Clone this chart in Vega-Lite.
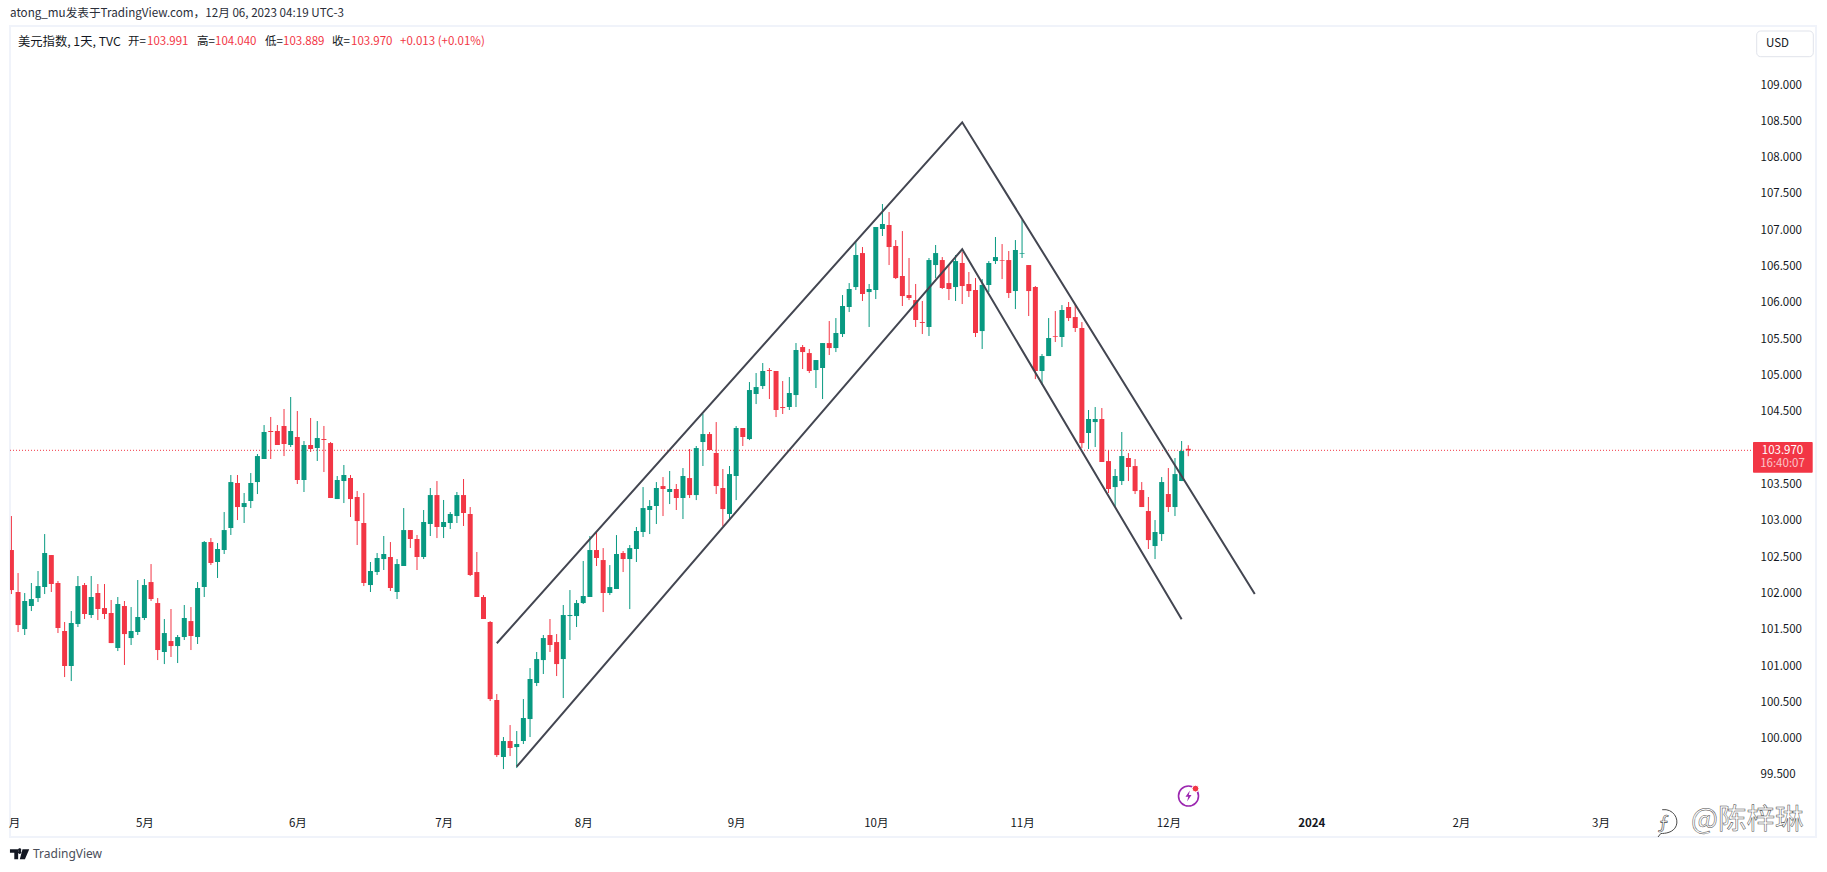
{
  "$schema": "https://vega.github.io/schema/vega-lite/v6.json",
  "width": 1806,
  "height": 811,
  "padding": {"left": 10, "top": 26, "right": 11, "bottom": 35},
  "autosize": {"type": "none"},
  "background": "#ffffff",
  "title": {
    "text": "atong_mu发表于TradingView.com，12月 06, 2023 04:19 UTC-3",
    "anchor": "start",
    "frame": "group",
    "offset": 6,
    "font": "Noto Sans CJK SC",
    "fontSize": 11.65,
    "fontWeight": "normal",
    "color": "#2a2e39"
  },
  "config": {
    "view": {"stroke": "#f0f3fa", "strokeWidth": 2},
    "text": {"font": "Noto Sans CJK SC", "fontSize": 11.5, "align": "left", "baseline": "middle"}
  },
  "datasets": {
    "candles": [
      {"i":0,"o":102.597,"h":103.065,"l":101.991,"c":102.046},
      {"i":1,"o":102.019,"h":102.280,"l":101.468,"c":101.564},
      {"i":2,"o":101.509,"h":102.005,"l":101.427,"c":101.895},
      {"i":3,"o":101.826,"h":102.143,"l":101.757,"c":101.922},
      {"i":4,"o":101.936,"h":102.308,"l":101.881,"c":102.101},
      {"i":5,"o":102.088,"h":102.817,"l":101.991,"c":102.556},
      {"i":6,"o":102.528,"h":102.528,"l":102.019,"c":102.129},
      {"i":7,"o":102.143,"h":102.170,"l":101.454,"c":101.523},
      {"i":8,"o":101.482,"h":101.606,"l":100.848,"c":101.000},
      {"i":9,"o":101.000,"h":101.757,"l":100.793,"c":101.592},
      {"i":10,"o":101.578,"h":102.239,"l":101.537,"c":102.101},
      {"i":11,"o":102.115,"h":102.143,"l":101.647,"c":101.716},
      {"i":12,"o":101.702,"h":102.239,"l":101.661,"c":101.950},
      {"i":13,"o":102.005,"h":102.129,"l":101.633,"c":101.785},
      {"i":14,"o":101.798,"h":102.129,"l":101.647,"c":101.716},
      {"i":15,"o":101.730,"h":101.909,"l":101.316,"c":101.316},
      {"i":16,"o":101.248,"h":101.950,"l":101.206,"c":101.854},
      {"i":17,"o":101.826,"h":101.895,"l":101.014,"c":101.440},
      {"i":18,"o":101.385,"h":101.812,"l":101.289,"c":101.482},
      {"i":19,"o":101.468,"h":102.184,"l":101.427,"c":101.675},
      {"i":20,"o":101.661,"h":102.198,"l":101.633,"c":102.115},
      {"i":21,"o":102.156,"h":102.404,"l":101.895,"c":101.922},
      {"i":22,"o":101.867,"h":101.936,"l":101.082,"c":101.220},
      {"i":23,"o":101.193,"h":101.647,"l":101.027,"c":101.454},
      {"i":24,"o":101.344,"h":101.785,"l":101.124,"c":101.275},
      {"i":25,"o":101.275,"h":101.427,"l":101.041,"c":101.399},
      {"i":26,"o":101.399,"h":101.840,"l":101.358,"c":101.661},
      {"i":27,"o":101.619,"h":101.812,"l":101.220,"c":101.413},
      {"i":28,"o":101.399,"h":102.156,"l":101.303,"c":102.074},
      {"i":29,"o":102.088,"h":102.721,"l":101.950,"c":102.707},
      {"i":30,"o":102.707,"h":102.762,"l":102.391,"c":102.418},
      {"i":31,"o":102.432,"h":102.693,"l":102.212,"c":102.611},
      {"i":32,"o":102.597,"h":103.120,"l":102.542,"c":102.872},
      {"i":33,"o":102.900,"h":103.630,"l":102.804,"c":103.533},
      {"i":34,"o":103.520,"h":103.630,"l":103.010,"c":103.189},
      {"i":35,"o":103.189,"h":103.382,"l":102.969,"c":103.244},
      {"i":36,"o":103.272,"h":103.657,"l":103.175,"c":103.520},
      {"i":37,"o":103.533,"h":103.919,"l":103.368,"c":103.891},
      {"i":38,"o":103.850,"h":104.318,"l":103.850,"c":104.222},
      {"i":39,"o":104.236,"h":104.429,"l":103.850,"c":104.222},
      {"i":40,"o":104.236,"h":104.318,"l":104.043,"c":104.043},
      {"i":41,"o":104.305,"h":104.539,"l":103.891,"c":104.057},
      {"i":42,"o":104.043,"h":104.704,"l":104.015,"c":104.236},
      {"i":43,"o":104.153,"h":104.511,"l":103.506,"c":103.561},
      {"i":44,"o":103.561,"h":104.098,"l":103.396,"c":104.043},
      {"i":45,"o":104.043,"h":104.415,"l":103.947,"c":103.988},
      {"i":46,"o":104.002,"h":104.373,"l":103.823,"c":104.139},
      {"i":47,"o":104.126,"h":104.305,"l":103.671,"c":104.112},
      {"i":48,"o":104.070,"h":104.084,"l":103.313,"c":103.313},
      {"i":49,"o":103.299,"h":103.616,"l":103.299,"c":103.561},
      {"i":50,"o":103.547,"h":103.768,"l":103.244,"c":103.630},
      {"i":51,"o":103.589,"h":103.630,"l":103.052,"c":103.299},
      {"i":52,"o":103.327,"h":103.410,"l":102.666,"c":102.996},
      {"i":53,"o":102.969,"h":103.382,"l":102.101,"c":102.143},
      {"i":54,"o":102.115,"h":102.432,"l":102.019,"c":102.308},
      {"i":55,"o":102.294,"h":102.556,"l":102.253,"c":102.487},
      {"i":56,"o":102.473,"h":102.790,"l":102.322,"c":102.542},
      {"i":57,"o":102.501,"h":102.707,"l":102.033,"c":102.074},
      {"i":58,"o":102.019,"h":102.473,"l":101.922,"c":102.404},
      {"i":59,"o":102.377,"h":103.175,"l":102.377,"c":102.872},
      {"i":60,"o":102.872,"h":102.872,"l":102.625,"c":102.749},
      {"i":61,"o":102.749,"h":102.804,"l":102.322,"c":102.501},
      {"i":62,"o":102.501,"h":103.148,"l":102.473,"c":102.983},
      {"i":63,"o":102.955,"h":103.451,"l":102.790,"c":103.354},
      {"i":64,"o":103.354,"h":103.547,"l":102.762,"c":102.914},
      {"i":65,"o":102.914,"h":103.286,"l":102.762,"c":102.983},
      {"i":66,"o":102.969,"h":103.120,"l":102.886,"c":103.093},
      {"i":67,"o":103.065,"h":103.396,"l":102.969,"c":103.354},
      {"i":68,"o":103.354,"h":103.575,"l":102.928,"c":103.107},
      {"i":69,"o":103.093,"h":103.189,"l":102.239,"c":102.253},
      {"i":70,"o":102.294,"h":102.570,"l":101.950,"c":101.950},
      {"i":71,"o":101.950,"h":101.977,"l":101.647,"c":101.647},
      {"i":72,"o":101.606,"h":101.619,"l":100.518,"c":100.545},
      {"i":73,"o":100.532,"h":100.614,"l":99.747,"c":99.774},
      {"i":74,"o":99.747,"h":100.022,"l":99.581,"c":99.967},
      {"i":75,"o":99.967,"h":100.187,"l":99.760,"c":99.871},
      {"i":76,"o":99.884,"h":100.105,"l":99.595,"c":99.926},
      {"i":77,"o":99.967,"h":100.545,"l":99.926,"c":100.284},
      {"i":78,"o":100.270,"h":100.972,"l":100.022,"c":100.821},
      {"i":79,"o":100.766,"h":101.193,"l":100.724,"c":101.096},
      {"i":80,"o":101.082,"h":101.427,"l":100.890,"c":101.385},
      {"i":81,"o":101.427,"h":101.647,"l":101.193,"c":101.289},
      {"i":82,"o":101.330,"h":101.440,"l":100.862,"c":101.027},
      {"i":83,"o":101.096,"h":101.840,"l":100.559,"c":101.702},
      {"i":84,"o":101.688,"h":102.046,"l":101.358,"c":101.702},
      {"i":85,"o":101.688,"h":101.909,"l":101.537,"c":101.867},
      {"i":86,"o":101.867,"h":102.446,"l":101.854,"c":101.964},
      {"i":87,"o":101.950,"h":102.790,"l":101.950,"c":102.597},
      {"i":88,"o":102.597,"h":102.845,"l":102.377,"c":102.487},
      {"i":89,"o":102.459,"h":102.624,"l":101.743,"c":102.005},
      {"i":90,"o":102.005,"h":102.390,"l":101.977,"c":102.087},
      {"i":91,"o":102.060,"h":102.803,"l":102.060,"c":102.542},
      {"i":92,"o":102.556,"h":102.583,"l":102.294,"c":102.473},
      {"i":93,"o":102.473,"h":102.666,"l":101.784,"c":102.624},
      {"i":94,"o":102.611,"h":102.914,"l":102.432,"c":102.859},
      {"i":95,"o":102.845,"h":103.464,"l":102.776,"c":103.175},
      {"i":96,"o":103.148,"h":103.285,"l":102.817,"c":103.203},
      {"i":97,"o":103.203,"h":103.533,"l":102.955,"c":103.451},
      {"i":98,"o":103.478,"h":103.602,"l":103.065,"c":103.437},
      {"i":99,"o":103.396,"h":103.685,"l":103.230,"c":103.437},
      {"i":100,"o":103.437,"h":103.506,"l":103.148,"c":103.313},
      {"i":101,"o":103.313,"h":103.726,"l":103.024,"c":103.616},
      {"i":102,"o":103.588,"h":103.988,"l":103.313,"c":103.354},
      {"i":103,"o":103.354,"h":104.029,"l":103.285,"c":104.001},
      {"i":104,"o":104.084,"h":104.474,"l":103.754,"c":104.194},
      {"i":105,"o":104.194,"h":104.222,"l":103.974,"c":103.974},
      {"i":106,"o":103.933,"h":104.359,"l":103.368,"c":103.478},
      {"i":107,"o":103.451,"h":103.712,"l":102.927,"c":103.161},
      {"i":108,"o":103.093,"h":103.754,"l":103.024,"c":103.643},
      {"i":109,"o":103.616,"h":104.304,"l":103.285,"c":104.277},
      {"i":110,"o":104.277,"h":104.277,"l":104.029,"c":104.153},
      {"i":111,"o":104.125,"h":104.910,"l":104.111,"c":104.800},
      {"i":112,"o":104.745,"h":105.034,"l":104.607,"c":104.841},
      {"i":113,"o":104.855,"h":105.172,"l":104.814,"c":105.062},
      {"i":114,"o":105.075,"h":105.103,"l":104.676,"c":105.062},
      {"i":115,"o":105.062,"h":105.062,"l":104.428,"c":104.525},
      {"i":116,"o":104.566,"h":104.924,"l":104.470,"c":104.552},
      {"i":117,"o":104.566,"h":104.979,"l":104.525,"c":104.759},
      {"i":118,"o":104.731,"h":105.447,"l":104.566,"c":105.351},
      {"i":119,"o":105.392,"h":105.420,"l":105.089,"c":105.323},
      {"i":120,"o":105.309,"h":105.365,"l":105.034,"c":105.062},
      {"i":121,"o":105.075,"h":105.213,"l":104.828,"c":105.213},
      {"i":122,"o":105.103,"h":105.447,"l":104.676,"c":105.447},
      {"i":123,"o":105.447,"h":105.750,"l":105.282,"c":105.378},
      {"i":124,"o":105.378,"h":105.791,"l":105.323,"c":105.585},
      {"i":125,"o":105.571,"h":106.108,"l":105.530,"c":105.957},
      {"i":126,"o":105.943,"h":106.273,"l":105.874,"c":106.191},
      {"i":127,"o":106.218,"h":106.852,"l":106.177,"c":106.659},
      {"i":128,"o":106.686,"h":106.769,"l":106.026,"c":106.122},
      {"i":129,"o":106.149,"h":106.260,"l":105.668,"c":106.191},
      {"i":130,"o":106.177,"h":107.045,"l":106.053,"c":107.045},
      {"i":131,"o":107.017,"h":107.361,"l":106.921,"c":107.086},
      {"i":132,"o":107.072,"h":107.251,"l":106.521,"c":106.769},
      {"i":133,"o":106.783,"h":106.865,"l":106.328,"c":106.342},
      {"i":134,"o":106.370,"h":106.989,"l":105.957,"c":106.094},
      {"i":135,"o":106.108,"h":106.618,"l":106.039,"c":106.067},
      {"i":136,"o":106.039,"h":106.260,"l":105.668,"c":105.764},
      {"i":137,"o":105.736,"h":106.026,"l":105.571,"c":105.723},
      {"i":138,"o":105.668,"h":106.618,"l":105.544,"c":106.590},
      {"i":139,"o":106.521,"h":106.797,"l":106.338,"c":106.686},
      {"i":140,"o":106.590,"h":106.631,"l":106.191,"c":106.205},
      {"i":141,"o":106.273,"h":106.535,"l":106.039,"c":106.191},
      {"i":142,"o":106.218,"h":106.659,"l":106.026,"c":106.576},
      {"i":143,"o":106.549,"h":106.700,"l":105.984,"c":106.232},
      {"i":144,"o":106.260,"h":106.425,"l":106.081,"c":106.163},
      {"i":145,"o":106.177,"h":106.342,"l":105.530,"c":105.585},
      {"i":146,"o":105.612,"h":106.328,"l":105.365,"c":106.246},
      {"i":147,"o":106.246,"h":106.576,"l":106.149,"c":106.549},
      {"i":148,"o":106.576,"h":106.907,"l":106.535,"c":106.631},
      {"i":149,"o":106.590,"h":106.810,"l":106.328,"c":106.581},
      {"i":150,"o":106.590,"h":106.714,"l":106.067,"c":106.136},
      {"i":151,"o":106.163,"h":106.865,"l":105.915,"c":106.728},
      {"i":152,"o":106.677,"h":107.141,"l":106.618,"c":106.686},
      {"i":153,"o":106.521,"h":106.521,"l":105.819,"c":106.163},
      {"i":154,"o":106.218,"h":106.232,"l":104.951,"c":105.062},
      {"i":155,"o":105.062,"h":105.296,"l":104.869,"c":105.268},
      {"i":156,"o":105.268,"h":105.791,"l":105.268,"c":105.516},
      {"i":157,"o":105.544,"h":105.888,"l":105.461,"c":105.534},
      {"i":158,"o":105.530,"h":105.970,"l":105.392,"c":105.902},
      {"i":159,"o":105.943,"h":106.012,"l":105.750,"c":105.791},
      {"i":160,"o":105.805,"h":105.984,"l":105.599,"c":105.654},
      {"i":161,"o":105.654,"h":105.736,"l":104.001,"c":104.070},
      {"i":162,"o":104.208,"h":104.525,"l":103.988,"c":104.401},
      {"i":163,"o":104.359,"h":104.566,"l":104.015,"c":104.401},
      {"i":164,"o":104.401,"h":104.552,"l":103.809,"c":103.809},
      {"i":165,"o":103.822,"h":103.974,"l":103.382,"c":103.437},
      {"i":166,"o":103.464,"h":103.712,"l":103.189,"c":103.616},
      {"i":167,"o":103.547,"h":104.222,"l":103.492,"c":103.891},
      {"i":168,"o":103.864,"h":103.932,"l":103.547,"c":103.740},
      {"i":169,"o":103.753,"h":103.850,"l":103.368,"c":103.409},
      {"i":170,"o":103.423,"h":103.533,"l":103.189,"c":103.189},
      {"i":171,"o":103.134,"h":103.327,"l":102.611,"c":102.734},
      {"i":172,"o":102.652,"h":103.010,"l":102.473,"c":102.845},
      {"i":173,"o":102.817,"h":103.602,"l":102.721,"c":103.533},
      {"i":174,"o":103.368,"h":103.726,"l":103.120,"c":103.189},
      {"i":175,"o":103.189,"h":103.864,"l":103.065,"c":103.643},
      {"i":176,"o":103.547,"h":104.098,"l":103.547,"c":103.960},
      {"i":177,"o":103.991,"h":104.040,"l":103.889,"c":103.970}
    ],
    "channels": [
      {"line":"upper","i":73,"p":101.313},
      {"line":"upper","i":143,"p":108.486},
      {"line":"upper","i":187,"p":101.992},
      {"line":"lower","i":76,"p":99.614},
      {"line":"lower","i":143,"p":106.738},
      {"line":"lower","i":176,"p":101.643}
    ]
  },
  "layer": [
    {
      "data": {"values": [{"price": 103.97}]},
      "mark": {"type": "rule", "color": "#f23645", "strokeWidth": 1, "strokeDash": [1, 2]},
      "encoding": {
        "y": {
          "field": "price",
          "type": "quantitative",
          "scale": {"domain": [98.6457, 109.8124], "nice": false, "zero": false},
          "axis": {
            "orient": "right",
            "offset": -60,
            "title": null,
            "domain": false,
            "ticks": false,
            "grid": false,
            "labelPadding": 4,
            "labelAlign": "left",
            "labelFont": "Noto Sans CJK SC",
            "labelFontSize": 11.5,
            "labelColor": "#131722",
            "labelOverlap": false,
            "format": ".3f",
            "values": [99.5, 100, 100.5, 101, 101.5, 102, 102.5, 103, 103.5, 104.5, 105, 105.5, 106, 106.5, 107, 107.5, 108, 108.5, 109]
          }
        },
        "x": {"value": 0},
        "x2": {"value": 1741}
      }
    },
    {
      "data": {"name": "candles"},
      "mark": {"type": "rule", "strokeWidth": 1, "clip": true},
      "encoding": {
        "x": {
          "field": "i",
          "type": "quantitative",
          "scale": {"domain": [-0.2136, 271.41], "nice": false, "zero": false, "padding": 0},
          "axis": {
            "orient": "bottom",
            "offset": -22,
            "title": null,
            "domain": false,
            "ticks": false,
            "grid": false,
            "labelPadding": 2,
            "labelFont": "Noto Sans CJK SC",
            "labelFontSize": 11.5,
            "labelColor": "#131722",
            "labelOverlap": false,
            "labelBound": false,
            "labelFlush": false,
            "labelFontWeight": {"condition": {"test": "datum.value == 195.5", "value": "bold"}, "value": "normal"},
            "values": [0.4, 20, 43, 65, 86, 109, 130, 152, 174, 195.5, 218, 239],
            "labelExpr": "{'0.4':'月','20':'5月','43':'6月','65':'7月','86':'8月','109':'9月','130':'10月','152':'11月','174':'12月','195.5':'2024','218':'2月','239':'3月'}[datum.value]"
          }
        },
        "y": {"field": "l", "type": "quantitative", "title": null, "axis": {"orient": "right", "title": null}},
        "y2": {"field": "h"},
        "color": {"condition": {"test": "datum.c >= datum.o", "value": "#089981"}, "value": "#f23645"}
      }
    },
    {
      "data": {"name": "candles"},
      "mark": {"type": "bar", "size": 5, "clip": true},
      "encoding": {
        "x": {"field": "i", "type": "quantitative", "title": null, "axis": {"orient": "bottom", "title": null}},
        "y": {"field": "o", "type": "quantitative", "title": null, "axis": {"orient": "right", "title": null}},
        "y2": {"field": "c"},
        "color": {"condition": {"test": "datum.c >= datum.o", "value": "#089981"}, "value": "#f23645"}
      }
    },
    {
      "data": {"name": "channels"},
      "mark": {"type": "line", "color": "#434651", "strokeWidth": 2},
      "encoding": {
        "x": {"field": "i", "type": "quantitative", "title": null, "axis": {"orient": "bottom", "title": null}},
        "y": {"field": "p", "type": "quantitative", "title": null, "axis": {"orient": "right", "title": null}},
        "detail": {"field": "line"}
      }
    },
    {
      "data": {"values": [{"t": "美元指数, 1天, TVC"}]},
      "mark": {"type": "text", "x": 8, "y": 16, "color": "#131722", "fontSize": 12.3},
      "encoding": {"text": {"field": "t"}}
    },
    {
      "data": {"values": [{"t": "开="}]},
      "mark": {"type": "text", "x": 118, "y": 16, "color": "#131722"},
      "encoding": {"text": {"field": "t"}}
    },
    {
      "data": {"values": [{"t": "103.991"}]},
      "mark": {"type": "text", "x": 137, "y": 16, "color": "#f23645"},
      "encoding": {"text": {"field": "t"}}
    },
    {
      "data": {"values": [{"t": "高="}]},
      "mark": {"type": "text", "x": 187, "y": 16, "color": "#131722"},
      "encoding": {"text": {"field": "t"}}
    },
    {
      "data": {"values": [{"t": "104.040"}]},
      "mark": {"type": "text", "x": 205, "y": 16, "color": "#f23645"},
      "encoding": {"text": {"field": "t"}}
    },
    {
      "data": {"values": [{"t": "低="}]},
      "mark": {"type": "text", "x": 255, "y": 16, "color": "#131722"},
      "encoding": {"text": {"field": "t"}}
    },
    {
      "data": {"values": [{"t": "103.889"}]},
      "mark": {"type": "text", "x": 273, "y": 16, "color": "#f23645"},
      "encoding": {"text": {"field": "t"}}
    },
    {
      "data": {"values": [{"t": "收="}]},
      "mark": {"type": "text", "x": 322, "y": 16, "color": "#131722"},
      "encoding": {"text": {"field": "t"}}
    },
    {
      "data": {"values": [{"t": "103.970"}]},
      "mark": {"type": "text", "x": 341, "y": 16, "color": "#f23645"},
      "encoding": {"text": {"field": "t"}}
    },
    {
      "data": {"values": [{"t": "+0.013 (+0.01%)"}]},
      "mark": {"type": "text", "x": 390, "y": 16, "color": "#f23645"},
      "encoding": {"text": {"field": "t"}}
    },
    {
      "data": {"values": [{}]},
      "mark": {"type": "rect", "x": 1746.7, "x2": 1803.3, "y": 5, "y2": 30.7, "fill": "#ffffff", "stroke": "#e0e3eb", "strokeWidth": 1, "cornerRadius": 4},
      "encoding": {}
    },
    {
      "data": {"values": [{"t": "USD"}]},
      "mark": {"type": "text", "x": 1756, "y": 18, "color": "#131722"},
      "encoding": {"text": {"field": "t"}}
    },
    {
      "data": {"values": [{}]},
      "mark": {"type": "rect", "x": 1743, "x2": 1802.7, "y": 416, "y2": 446.7, "fill": "#f23645", "cornerRadius": 1},
      "encoding": {}
    },
    {
      "data": {"values": [{"t": "103.970"}]},
      "mark": {"type": "text", "x": 1772.5, "y": 424.7, "align": "center", "color": "#ffffff"},
      "encoding": {"text": {"field": "t"}}
    },
    {
      "data": {"values": [{"t": "16:40:07"}]},
      "mark": {"type": "text", "x": 1772.5, "y": 438.3, "align": "center", "color": "#ffffff", "opacity": 0.7},
      "encoding": {"text": {"field": "t"}}
    },
    {
      "data": {"values": [{}]},
      "mark": {"type": "point", "x": 1178.5, "y": 770, "shape": "circle", "size": 400, "filled": false, "stroke": "#9c27b0", "strokeWidth": 1.6, "opacity": 1},
      "encoding": {}
    },
    {
      "data": {"values": [{}]},
      "mark": {"type": "point", "x": 1185.5, "y": 762.6, "shape": "circle", "size": 46, "filled": true, "fill": "#f23645", "stroke": "#ffffff", "strokeWidth": 1, "opacity": 1},
      "encoding": {}
    },
    {
      "data": {"values": [{}]},
      "mark": {"type": "point", "x": 1178.5, "y": 770, "shape": "M 0.25,-1 L -0.55,0.15 L -0.05,0.15 L -0.25,1 L 0.55,-0.2 L 0.05,-0.2 Z", "size": 120, "filled": true, "fill": "#9c27b0", "strokeWidth": 0, "opacity": 1},
      "encoding": {}
    },
    {
      "data": {"values": [{"t": "@陈梓琳"}]},
      "mark": {"type": "text", "x": 1681, "y": 794, "fontSize": 28.5, "fill": "#ffffff", "stroke": "#4a4a4a", "strokeWidth": 0.5},
      "encoding": {"text": {"field": "t"}}
    },
    {
      "data": {"values": [{}]},
      "mark": {"type": "point", "x": 1655, "y": 797, "shape": "M -0.2,-0.95 C 0.6,-1.05 1,-0.3 0.8,0.2 C 0.6,0.7 0,0.75 -0.3,0.75 L -0.5,1", "size": 784, "filled": false, "stroke": "#4a4a4a", "strokeWidth": 1, "opacity": 1},
      "encoding": {}
    },
    {
      "data": {"values": [{"t": "ƒ"}]},
      "mark": {"type": "text", "x": 1648, "y": 798, "fontSize": 20, "fill": "#ffffff", "stroke": "#4a4a4a", "strokeWidth": 0.6},
      "encoding": {"text": {"field": "t"}}
    },
    {
      "data": {"values": [{}]},
      "mark": {"type": "point", "x": 9.6, "y": 828.3, "shape": "M -1,-0.52 L -0.15,-0.52 L -0.15,0.52 L -0.55,0.52 L -0.55,-0.15 L -1,-0.15 Z M 0.3,-0.52 L 1,-0.52 L 0.55,0.52 L 0.02,0.52 Z M 0.12,-0.34 A 0.17,0.17 0 1 1 -0.1,-0.34 A 0.17,0.17 0 1 1 0.12,-0.34 Z", "size": 372, "filled": true, "fill": "#131722", "strokeWidth": 0, "opacity": 1},
      "encoding": {}
    },
    {
      "data": {"values": [{"t": "TradingView"}]},
      "mark": {"type": "text", "x": 23, "y": 828, "fontSize": 12, "font": "Noto Sans", "color": "#4a4e59"},
      "encoding": {"text": {"field": "t"}}
    }
  ]
}
